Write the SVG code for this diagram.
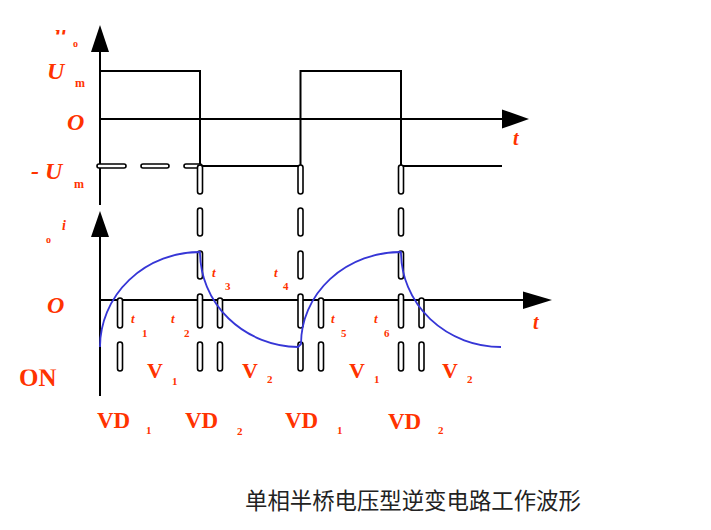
<svg xmlns="http://www.w3.org/2000/svg" width="711" height="530" viewBox="0 0 711 530">
<style>
.ax{stroke:#000;stroke-width:2;fill:none}
.wave{stroke:#000;stroke-width:2;fill:none}
.pill{fill:#fff;stroke:#000;stroke-width:1.6}
.cur{stroke:#3636D6;stroke-width:1.8;fill:none;stroke-linejoin:round}
.lbl{font-family:"Liberation Serif","Times New Roman",serif;font-weight:bold;fill:#FF3300}
.it{font-style:italic}
.cap{font-family:"Noto Sans CJK SC",sans-serif;fill:#222;font-size:22.4px}
</style>
<defs>
<clipPath id="cu"><rect x="40" y="20" width="40" height="14.5"/></clipPath>
<clipPath id="con"><rect x="10" y="369.5" width="60" height="25"/></clipPath>
<clipPath id="cvd"><rect x="380" y="411.5" width="60" height="25"/></clipPath>
</defs>
<rect width="711" height="530" fill="#fff"/>

<g id="upper-plot">
<path class="ax" d="M100,50 V205"/>
<polygon points="100,25 91,52 109,52" fill="#000"/>
<path class="ax" d="M100,119 H504"/>
<polygon points="529,119 502,109.5 502,128.5" fill="#000"/>
<path class="wave" d="M100,71 H200 V166 H300.5 V71 H401 V166 H502"/>
</g>

<g id="lower-plot">
<path class="ax" d="M100,235 V396"/>
<polygon points="100,211 91,237 109,237" fill="#000"/>
<path class="ax" d="M100,300 H525"/>
<polygon points="552,300 523,291.5 523,309" fill="#000"/>
</g>

<g id="connectors">
<rect class="pill" x="97" y="164" width="29" height="4" rx="2"/>
<rect class="pill" x="141" y="164" width="28" height="4" rx="2"/>
<rect class="pill" x="184" y="164" width="18" height="4" rx="2"/>
<rect class="pill" x="197.5" y="165" width="5" height="29" rx="2.5"/>
<rect class="pill" x="298" y="165" width="5" height="29" rx="2.5"/>
<rect class="pill" x="398.5" y="165" width="5" height="29" rx="2.5"/>
<rect class="pill" x="197.5" y="208" width="5" height="28" rx="2.5"/>
<rect class="pill" x="197.5" y="251" width="5" height="28" rx="2.5"/>
<rect class="pill" x="197.5" y="294" width="5" height="34" rx="2.5"/>
<rect class="pill" x="197.5" y="342" width="5" height="29" rx="2.5"/>
<rect class="pill" x="298" y="208" width="5" height="28" rx="2.5"/>
<rect class="pill" x="298" y="251" width="5" height="28" rx="2.5"/>
<rect class="pill" x="298" y="294" width="5" height="34" rx="2.5"/>
<rect class="pill" x="298" y="342" width="5" height="29" rx="2.5"/>
<rect class="pill" x="398.5" y="208" width="5" height="28" rx="2.5"/>
<rect class="pill" x="398.5" y="251" width="5" height="28" rx="2.5"/>
<rect class="pill" x="398.5" y="294" width="5" height="34" rx="2.5"/>
<rect class="pill" x="398.5" y="342" width="5" height="29" rx="2.5"/>
<rect class="pill" x="117.5" y="298" width="5" height="30" rx="2.5"/>
<rect class="pill" x="117.5" y="342" width="5" height="29" rx="2.5"/>
<rect class="pill" x="217.5" y="298" width="5" height="30" rx="2.5"/>
<rect class="pill" x="217.5" y="342" width="5" height="29" rx="2.5"/>
<rect class="pill" x="318.5" y="298" width="5" height="30" rx="2.5"/>
<rect class="pill" x="318.5" y="342" width="5" height="29" rx="2.5"/>
<rect class="pill" x="419" y="298" width="5" height="30" rx="2.5"/>
<rect class="pill" x="419" y="342" width="5" height="29" rx="2.5"/>
</g>

<g id="current">
<path class="cur" d="M100,347 A100,95 0 0 1 200,252 A100,95 0 0 0 298,347 L301,344 A100,92 0 0 1 401,252 A100,95 0 0 0 501,347"/>
</g>

<g id="labels-upper">
<text class="lbl it" x="55" y="40" font-size="20" clip-path="url(#cu)">u</text>
<text class="lbl" x="73" y="47" font-size="10">o</text>
<text class="lbl it" x="47" y="79" font-size="24">U</text>
<text class="lbl" x="75" y="87" font-size="12">m</text>
<text class="lbl it" x="67" y="130" font-size="24">O</text>
<text class="lbl it" x="31" y="179" font-size="24">- U</text>
<text class="lbl" x="74" y="188" font-size="12">m</text>
<text class="lbl it" x="513" y="145" font-size="20">t</text>
</g>

<g id="labels-lower">
<text class="lbl" x="46" y="243" font-size="10">o</text>
<text class="lbl it" x="62" y="230" font-size="14">i</text>
<text class="lbl it" x="47" y="313" font-size="24">O</text>
<text class="lbl it" x="533" y="329" font-size="20">t</text>
<text class="lbl" x="19" y="386" font-size="25" clip-path="url(#con)">ON</text>
<text class="lbl it" x="131" y="323" font-size="13">t</text>
<text class="lbl" x="142" y="337" font-size="11">1</text>
<text class="lbl it" x="171" y="323" font-size="13">t</text>
<text class="lbl" x="184" y="337" font-size="11">2</text>
<text class="lbl it" x="212" y="277" font-size="13">t</text>
<text class="lbl" x="225" y="290" font-size="11">3</text>
<text class="lbl it" x="274" y="277" font-size="13">t</text>
<text class="lbl" x="283" y="290" font-size="11">4</text>
<text class="lbl it" x="331" y="323" font-size="13">t</text>
<text class="lbl" x="341" y="337" font-size="11">5</text>
<text class="lbl it" x="374" y="323" font-size="13">t</text>
<text class="lbl" x="384" y="337" font-size="11">6</text>
<text class="lbl" x="147" y="378" font-size="22">V</text>
<text class="lbl" x="172" y="385" font-size="11">1</text>
<text class="lbl" x="242" y="378" font-size="22">V</text>
<text class="lbl" x="267" y="383" font-size="11">2</text>
<text class="lbl" x="349" y="378" font-size="22">V</text>
<text class="lbl" x="374" y="383" font-size="11">1</text>
<text class="lbl" x="442" y="378" font-size="22">V</text>
<text class="lbl" x="467" y="383" font-size="11">2</text>
<text class="lbl" x="97" y="428" font-size="23">VD</text>
<text class="lbl" x="146" y="434" font-size="11">1</text>
<text class="lbl" x="185" y="428" font-size="23">VD</text>
<text class="lbl" x="237" y="435" font-size="11">2</text>
<text class="lbl" x="285" y="428" font-size="23">VD</text>
<text class="lbl" x="337" y="434" font-size="11">1</text>
<text class="lbl" x="388" y="429" font-size="23" clip-path="url(#cvd)">VD</text>
<text class="lbl" x="438" y="434" font-size="11">2</text>
</g>

<g id="caption">
<text class="cap" x="245" y="509">单相半桥电压型逆变电路工作波形</text>
</g>
</svg>
